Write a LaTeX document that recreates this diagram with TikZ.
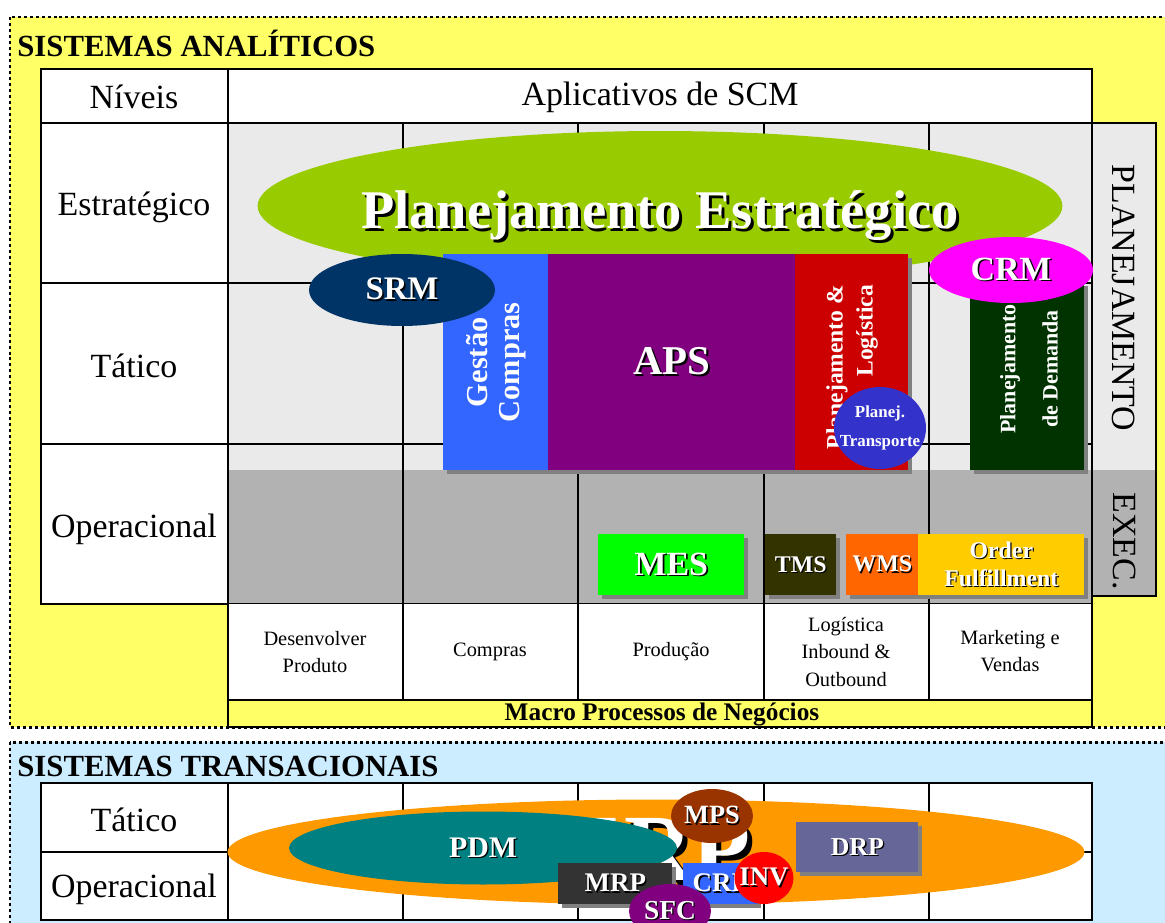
\documentclass[tikz,border=0pt]{standalone}
\usepackage{fontspec}
\setmainfont{Liberation Serif}
\usetikzlibrary{shapes.geometric, shadows, positioning}

\definecolor{anayellow}{HTML}{FFFF66}
\definecolor{trnblue}{HTML}{CCECFF}
\definecolor{planfill}{HTML}{EAEAEA}
\definecolor{execfill}{HTML}{B2B2B2}
\definecolor{shadegray}{HTML}{808080}
\definecolor{estgreen}{HTML}{99CC00}
\definecolor{srmblue}{HTML}{003366}
\definecolor{cmpblue}{HTML}{3366FF}
\definecolor{apspurple}{HTML}{800080}
\definecolor{logred}{HTML}{CC0000}
\definecolor{trpblue}{HTML}{3333CC}
\definecolor{crmpink}{HTML}{FF00FF}
\definecolor{demgreen}{HTML}{003300}
\definecolor{mesgreen}{HTML}{00FF00}
\definecolor{tmsolive}{HTML}{333300}
\definecolor{wmsorange}{HTML}{FF6600}
\definecolor{ordgold}{HTML}{FFCC00}
\definecolor{erporange}{HTML}{FF9900}
\definecolor{pdmteal}{HTML}{008080}
\definecolor{mpsbrown}{HTML}{993300}
\definecolor{mrpgray}{HTML}{333333}
\definecolor{invred}{HTML}{FF0000}
\definecolor{drpslate}{HTML}{666699}

\newcommand{\fsz}[2]{\fontsize{#1}{#2}\selectfont}
\newcommand{\shd}[1]{\leavevmode\rlap{\kern.05em\raisebox{-.05em}{\textcolor{black}{#1}}}#1}

\tikzset{
  sysframe/.style={line width=1.7pt, dash pattern=on 1.7pt off 1.7pt},
  cellline/.style={draw=black, line width=1pt},
  systitle/.style={anchor=base west, inner sep=0pt, font=\bfseries\fsz{17.5}{21}},
  lvl/.style={font=\fsz{19.3}{23}},
  proc/.style={align=center, font=\fsz{11.6}{15.5}},
  app/.style={inner sep=0pt, text=white, font=\bfseries},
  appbox/.style={app, rectangle, anchor=north west,
    drop shadow={shadow xshift=0.08cm, shadow yshift=-0.08cm, fill=shadegray, opacity=1}},
  appell/.style={app, ellipse},
}

\begin{document}
\begin{tikzpicture}[x=0.02cm, y=-0.02cm]
\useasboundingbox (0,0) rectangle (1165,922);
\clip (0,0) rectangle (1165,922);

% sistemas analiticos
\filldraw[fill=anayellow, sysframe] (10,17) rectangle (1190,727);
\node[systitle] (tana) at (17,57) {SISTEMAS ANALÍTICOS};

\filldraw[cellline, fill=white] (41,69) rectangle (228,123);
\filldraw[cellline, fill=white] (228,69) rectangle (1092,123);
\node[lvl] (niv) at (134,97) {Níveis};
\node[lvl] (apl) at (660,97) {Aplicativos de SCM};

\fill[white] (41,123) rectangle (228,604);
\fill[planfill] (228,123) rectangle (1092,470);
\fill[execfill] (228,470) rectangle (1092,604);
\foreach \x in {228,403,578,764,929} \draw[cellline] (\x,123) -- (\x,604);
\foreach \y in {283,444} \draw[cellline] (41,\y) -- (1092,\y);
\draw[cellline] (41,123) rectangle (1092,604);
\node[lvl] (est) at (134,207) {Estratégico};
\node[lvl] (tat) at (134,366) {Tático};
\node[lvl] (ope) at (134,529) {Operacional};

% planejamento / execucao
\fill[planfill] (1092,123) rectangle (1156,470);
\fill[execfill] (1092,470) rectangle (1156,596);
\draw[cellline] (1092,123) rectangle (1156,596);
\node[lvl, rotate=-90] (plan) at (1124,298) {PLANEJAMENTO};
\node[lvl, rotate=-90] (exec) at (1124,541) {EXEC.};

% aplicativos
\node[appell, fill=estgreen, minimum width=16.1cm, minimum height=3cm,
  label={[app, yshift=-0.22cm, font=\bfseries\fsz{31}{36}]center:\shd{Planejamento Estratégico}}] (pest) at (660,206) {};

\node[appbox, fill=cmpblue, minimum width=2.1cm, minimum height=4.32cm] (gcmp) at (443,254) {};
\node[app, rotate=90, align=center, font=\bfseries\fsz{17.3}{18}] (gcmpt) at (gcmp.center) {Gestão\\Compras};
\node[appbox, fill=apspurple, minimum width=4.94cm, minimum height=4.32cm, font=\bfseries\fsz{23.3}{28}] (aps) at (548,254) {\shd{APS}};
\node[appbox, fill=logred, minimum width=2.26cm, minimum height=4.32cm] (plog) at (795,254) {};
\node[app, rotate=90, align=right, font=\bfseries\fsz{13.4}{17}] (plogt) at (852,367) {Planejamento \&\\Logística};
\node[appbox, fill=demgreen, minimum width=2.28cm, minimum height=3.76cm] (pdem) at (970,282) {};
\node[app, rotate=90, align=center, font=\bfseries\fsz{12.5}{24}] (pdemt) at (1029,369) {Planejamento\\de Demanda};

\node[appell, fill=srmblue, minimum width=3.72cm, minimum height=1.44cm, font=\bfseries\fsz{18.7}{22}] (srm) at (402,290) {\shd{SRM}};
\node[appell, fill=crmpink, minimum width=3.28cm, minimum height=1.32cm, font=\bfseries\fsz{19.3}{22}] (crm) at (1011,270) {\shd{CRM}};
\node[appell, fill=trpblue, minimum width=1.84cm, minimum height=1.64cm,
  label={[app, align=center, font=\bfseries\fsz{9.6}{16.5}]center:Planej.\\Transporte}] (ptrp) at (880,428) {};

\node[appbox, fill=mesgreen, minimum width=2.92cm, minimum height=1.22cm, font=\bfseries\fsz{19.3}{22}] (mes) at (598,534) {\shd{MES}};
\node[appbox, fill=tmsolive, minimum width=1.42cm, minimum height=1.22cm, font=\bfseries\fsz{13.6}{16}] (tms) at (765,534) {\shd{TMS}};
\node[appbox, fill=wmsorange, minimum width=1.44cm, minimum height=1.22cm, font=\bfseries\fsz{13.6}{16}] (wms) at (846,534) {\shd{WMS}};
\node[appbox, fill=ordgold, minimum width=3.32cm, minimum height=1.22cm, align=center, font=\bfseries\fsz{13.6}{16}] (ord) at (918,534) {\shd{Order}\\\shd{Fulfillment}};

% macro processos
\fill[white] (228,604) rectangle (1092,700);
\foreach \x in {228,403,578,764,929,1092} \draw[cellline] (\x,604) -- (\x,700);
\filldraw[cellline, fill=anayellow] (228,700) rectangle (1092,727);
\node[proc] (pdev) at (315,652) {Desenvolver\\Produto};
\node[proc] (pcmp) at (490,652) {Compras};
\node[proc] (pprd) at (671,652) {Produção};
\node[proc] (plgs) at (846,652) {Logística\\Inbound \&\\Outbound};
\node[proc] (pmkt) at (1010,651) {Marketing e\\Vendas};
\node[font=\bfseries\fsz{14.4}{17}] (macro) at (662,714) {Macro Processos de Negócios};

% sistemas transacionais
\filldraw[fill=trnblue, sysframe] (10,742) rectangle (1190,960);
\node[systitle] (ttrn) at (17,776) {SISTEMAS TRANSACIONAIS};
\filldraw[cellline, fill=white] (41,783) rectangle (1092,920);
\foreach \x in {228,403,578,764,929} \draw[cellline] (\x,783) -- (\x,920);
\draw[cellline] (41,852) -- (1092,852);
\node[lvl] (tat2) at (134,820) {Tático};
\node[lvl] (ope2) at (134,889) {Operacional};

\node[appell, fill=erporange, minimum width=17.14cm, minimum height=2.1cm, font=\bfseries\fsz{54}{60}] (erp) at (656,852) {\shd{ERP}};
\node[appell, fill=pdmteal, minimum width=7.76cm, minimum height=1.46cm, font=\bfseries\fsz{17}{20}] (pdm) at (483,848) {\shd{PDM}};
\node[appell, fill=mpsbrown, minimum width=1.64cm, minimum height=1.08cm, font=\bfseries\fsz{15}{18}] (mps) at (712,816) {\shd{MPS}};
\node[appbox, fill=mrpgray, minimum width=2.28cm, minimum height=0.82cm, font=\bfseries\fsz{15.3}{18}] (mrp) at (558,863) {\shd{MRP}};
\node[appbox, fill=cmpblue, minimum width=1.48cm, minimum height=0.82cm, font=\bfseries\fsz{15.3}{18}] (crp) at (683,863) {\shd{CRP}};
\node[appell, fill=invred, minimum width=1.18cm, minimum height=1.04cm,
  label={[app, font=\bfseries\fsz{15.3}{18}]center:\shd{INV}}] (inv) at (764,878) {};
\node[appbox, fill=drpslate, minimum width=2.44cm, minimum height=1cm, font=\bfseries\fsz{14.7}{18}] (drp) at (796,822) {\shd{DRP}};
\node[appell, fill=apspurple, minimum width=1.64cm, minimum height=1.08cm, font=\bfseries\fsz{15.6}{18}] (sfc) at (670,911) {\shd{SFC}};
\end{tikzpicture}
\end{document}
